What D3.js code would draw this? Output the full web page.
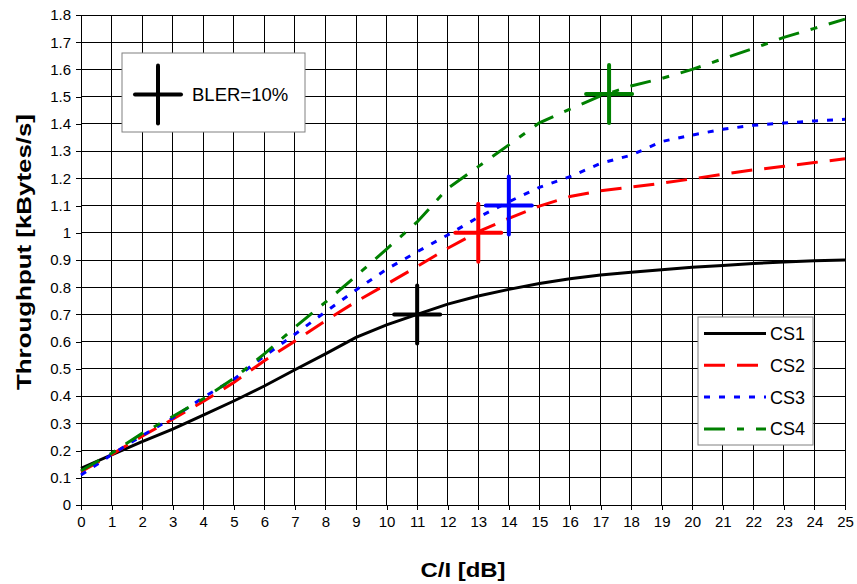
<!DOCTYPE html>
<html lang="en">
<head>
    <meta charset="UTF-8">
    <title>Throughput vs C/I</title>
    <script src="https://d3js.org/d3.v7.min.js"></script>
    <style>
        body { margin: 0; background: #fff; }
        svg { display: block; font-family: "Liberation Sans", Arial, sans-serif; }
        .grid line { stroke: #000; stroke-width: 1; shape-rendering: crispEdges; }
        .axis text { font-size: 15px; fill: #000; }
        .axis path, .axis line { stroke: #000; shape-rendering: crispEdges; }
        .curve { fill: none; stroke-width: 3; }
    </style>
</head>
<body>
    <svg width="857" height="584"></svg>

    <script>
        // C/I values (dB)
        const ci = [0, 1, 2, 3, 4, 5, 6, 7, 8, 9, 10, 11, 12, 13, 14, 15, 16, 17, 18, 19, 20, 21, 22, 23, 24, 25];

        // throughput per coding scheme (kBytes/s)
        const cs1 = [0.135, 0.184, 0.233, 0.279, 0.33, 0.382, 0.437, 0.497, 0.555, 0.616, 0.662, 0.70, 0.738, 0.768, 0.792, 0.814, 0.831, 0.845, 0.855, 0.864, 0.873, 0.88, 0.887, 0.893, 0.897, 0.90];
        const cs2 = [0.122, 0.185, 0.253, 0.315, 0.38, 0.45, 0.53, 0.602, 0.677, 0.747, 0.811, 0.876, 0.943, 1.004, 1.053, 1.098, 1.133, 1.154, 1.168, 1.182, 1.198, 1.215, 1.231, 1.244, 1.258, 1.272];
        const cs3 = [0.11, 0.185, 0.255, 0.32, 0.395, 0.462, 0.547, 0.627, 0.71, 0.79, 0.866, 0.93, 0.992, 1.057, 1.114, 1.167, 1.206, 1.255, 1.285, 1.335, 1.359, 1.38, 1.395, 1.403, 1.411, 1.417];
        const cs4 = [0.126, 0.19, 0.263, 0.325, 0.39, 0.465, 0.555, 0.653, 0.745, 0.841, 0.94, 1.04, 1.163, 1.243, 1.323, 1.404, 1.454, 1.503, 1.539, 1.567, 1.600, 1.639, 1.677, 1.718, 1.751, 1.785];

        const seriesNames = ["CS1", "CS2", "CS3", "CS4"];
        const seriesColors = ["#000000", "#ff0000", "#0000ff", "#008000"];
        const seriesDash = [null, "21,12", "6,9", "21,12,7,12"];

        // BLER = 10% operating points
        const blerX = [11, 13, 14, 17.28];
        const blerY = [0.70, 1.00, 1.10, 1.51];

        const xTicks = ci;
        const yTicks = [0, 0.1, 0.2, 0.3, 0.4, 0.5, 0.6, 0.7, 0.8, 0.9, 1, 1.1, 1.2, 1.3, 1.4, 1.5, 1.6, 1.7, 1.8];

        const svg = d3.select("svg");
        const margin = { left: 81, right: 12, top: 15, bottom: 79 };
        const width = 857 - margin.left - margin.right;
        const height = 584 - margin.top - margin.bottom;

        const x = d3.scaleLinear().domain([0, 25]).range([0, width]);
        const y = d3.scaleLinear().domain([0, 1.8]).range([height, 0]);

        const g = svg.append("g").attr("transform", `translate(${margin.left},${margin.top})`);

        // grid
        const grid = g.append("g").attr("class", "grid");
        grid.selectAll(".v").data(xTicks.slice(1)).enter().append("line")
            .attr("x1", d => x(d)).attr("x2", d => x(d))
            .attr("y1", 0).attr("y2", height);
        grid.selectAll(".h").data(yTicks.slice(1)).enter().append("line")
            .attr("x1", 0).attr("x2", width)
            .attr("y1", d => y(d)).attr("y2", d => y(d));

        // axes
        g.append("g").attr("class", "axis")
            .attr("transform", `translate(0,${height})`)
            .call(d3.axisBottom(x).tickValues(xTicks).tickSize(5).tickPadding(6).tickFormat(d3.format("d")))
            .call(a => a.select(".domain").attr("d", `M0,0H${width}`));
        g.append("g").attr("class", "axis")
            .call(d3.axisLeft(y).tickValues(yTicks).tickSize(5).tickPadding(5).tickFormat(d => d3.format("~g")(d)))
            .call(a => a.select(".domain").attr("d", `M0,0V${height}`));

        // curves
        const allSeries = [cs1, cs2, cs3, cs4];
        const line = d3.line().x((d, i) => x(ci[i])).y(d => y(d));
        allSeries.forEach((vals, k) => {
            g.append("path")
                .attr("class", "curve")
                .attr("d", line(vals))
                .attr("stroke", seriesColors[k])
                .attr("stroke-width", k === 0 ? 2.5 : 3.2)
                .attr("stroke-dasharray", seriesDash[k]);
        });

        // BLER crosses
        function cross(sel, cx, cy, color) {
            sel.append("line").attr("x1", cx - 23).attr("x2", cx + 23).attr("y1", cy).attr("y2", cy)
                .attr("stroke", color).attr("stroke-width", 4).attr("stroke-linecap", "round");
            sel.append("line").attr("x1", cx).attr("x2", cx).attr("y1", cy - 29).attr("y2", cy + 29)
                .attr("stroke", color).attr("stroke-width", 4).attr("stroke-linecap", "round");
        }
        blerX.forEach((bx, k) => cross(g, x(bx), y(blerY[k]), seriesColors[k]));

        // BLER box
        svg.append("rect").attr("x", 122).attr("y", 53).attr("width", 183).attr("height", 79)
            .attr("fill", "#fff").attr("stroke", "#808080");
        cross(svg, 158, 94.5, "#000");
        svg.append("text").attr("x", 192).attr("y", 101).attr("font-size", 18.5).text("BLER=10%");

        // legend
        const leg = svg.append("g");
        leg.append("rect").attr("x", 698).attr("y", 317).attr("width", 115).attr("height", 128)
            .attr("fill", "#fff").attr("stroke", "#808080");
        seriesNames.forEach((name, k) => {
            const ly = 333.5 + k * 31.8;
            leg.append("line").attr("x1", 704).attr("x2", 766).attr("y1", ly).attr("y2", ly)
                .attr("stroke", seriesColors[k]).attr("stroke-width", 3)
                .attr("stroke-dasharray", seriesDash[k]);
            leg.append("text").attr("x", 770).attr("y", ly + 6.5).attr("font-size", 18).text(name);
        });

        // axis titles
        svg.append("text")
            .attr("transform", "translate(31,252) rotate(-90)")
            .attr("text-anchor", "middle")
            .attr("font-size", 20).attr("font-weight", "bold")
            .attr("textLength", 276).attr("lengthAdjust", "spacingAndGlyphs")
            .text("Throughput [kBytes/s]");
        svg.append("text")
            .attr("x", 463).attr("y", 577)
            .attr("text-anchor", "middle")
            .attr("font-size", 20).attr("font-weight", "bold")
            .attr("textLength", 85).attr("lengthAdjust", "spacingAndGlyphs")
            .text("C/I [dB]");
    </script>
</body>
</html>
